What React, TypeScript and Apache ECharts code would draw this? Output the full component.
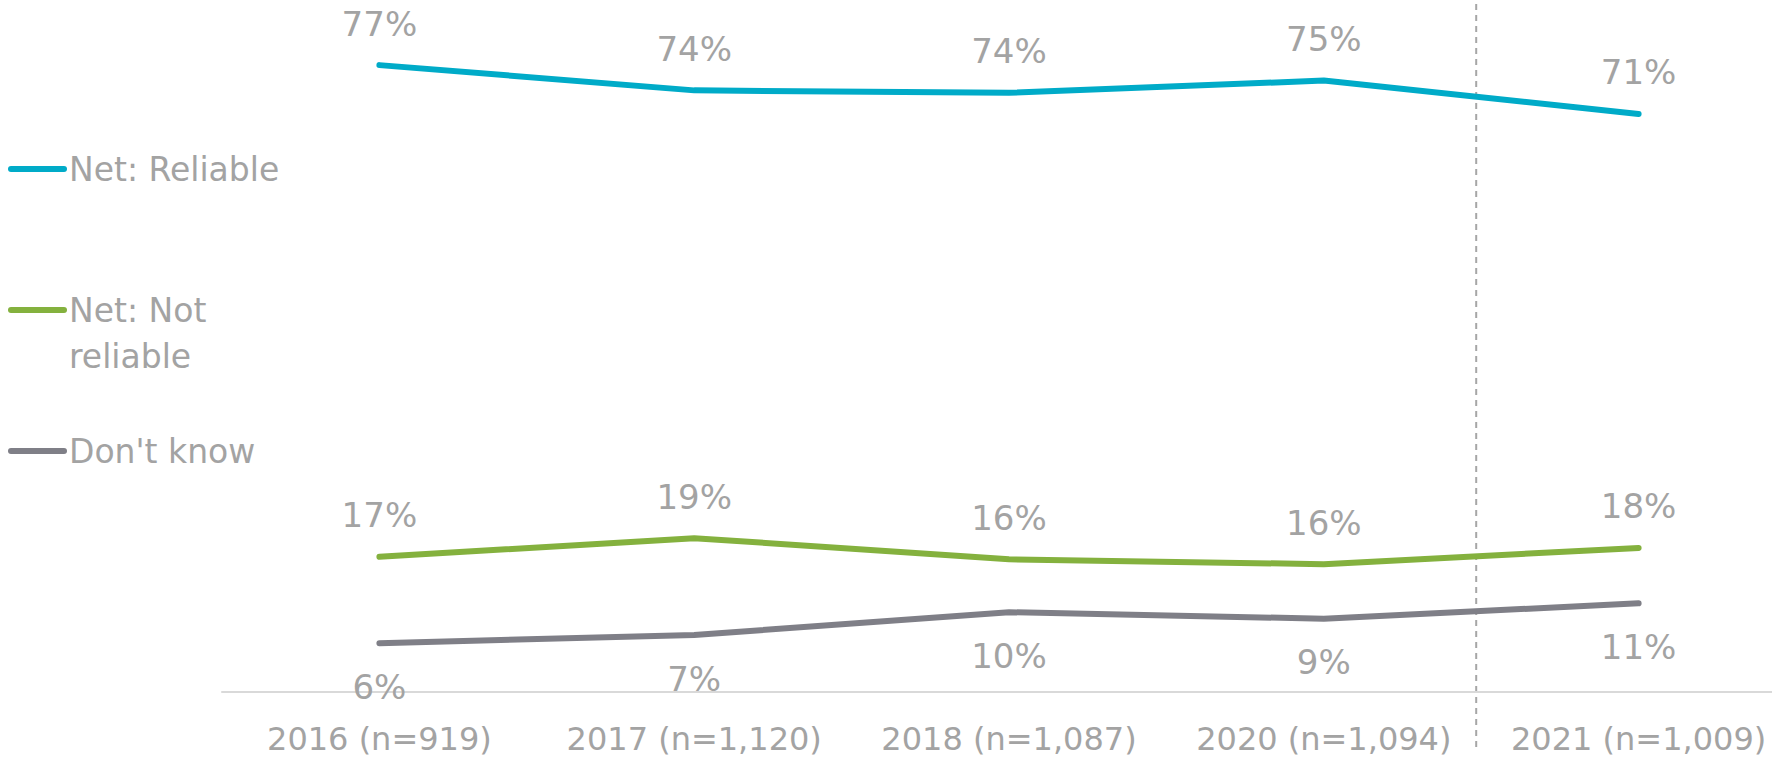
import React, { useEffect, useRef } from "react";
import * as echarts from "echarts";

const categories = [
  "2016 (n=919)",
  "2017 (n=1,120)",
  "2018 (n=1,087)",
  "2020 (n=1,094)",
  "2021 (n=1,009)",
];
const reliable = [77.0, 73.9, 73.6, 75.1, 71.0];
const notReliable = [16.6, 18.9, 16.3, 15.7, 17.7];
const dontKnow = [6.0, 7.0, 9.8, 9.0, 10.9];
const seriesNames = ["Net: Reliable", "Net: Not reliable", "Don't know"];
const legendLabels = ["Net: Reliable", "Net: Not\nreliable", "Don't know"];
const colors = ["#00ABC8", "#84B13E", "#7F7F87"];

const FONT = "'DejaVu Sans', Verdana, sans-serif";
const TEXT = "#A3A3A3";

export default function App() {
  const ref = useRef<HTMLDivElement>(null);
  useEffect(() => {
    if (!ref.current) return;
    const chart = echarts.init(ref.current, undefined, { renderer: "svg" });
    const label = (pos: "top" | "bottom", dist: number) => ({
      show: true,
      position: pos,
      distance: dist,
      color: TEXT,
      fontFamily: FONT,
      fontSize: 34,
      formatter: (p: any) => Math.round(p.value) + "%",
    });
    const mk = (name: string, data: number[], color: string, pos: "top" | "bottom", dist: number) => ({
      name,
      type: "line",
      data,
      color,
      symbol: "circle",
      symbolSize: 3,
      showSymbol: true,
      itemStyle: { color },
      lineStyle: { color, width: 6, cap: "round", join: "round" },
      label: label(pos, dist),
    });
    chart.setOption({
      animation: false,
      grid: { left: 222, top: 0, width: 1574, height: 692, outerBoundsMode: "none", containLabel: false },
      xAxis: {
        type: "category",
        data: categories,
        boundaryGap: true,
        axisLine: { show: true, lineStyle: { color: "#D9D9D9", width: 2 } },
        axisTick: { show: false },
        axisLabel: { color: TEXT, fontFamily: FONT, fontSize: 32, margin: 31, interval: 0 },
        splitLine: { show: false },
      },
      yAxis: {
        type: "value",
        min: 0,
        max: 85,
        show: false,
        splitLine: { show: false },
      },
      series: [
        mk(seriesNames[0], reliable, colors[0], "top", 23),
        mk(seriesNames[1], notReliable, colors[1], "top", 23),
        mk(seriesNames[2], dontKnow, colors[2], "bottom", 25),
      ],
    });

    const x4 = chart.convertToPixel({ xAxisIndex: 0 }, categories[3]) as number;
    const x5 = chart.convertToPixel({ xAxisIndex: 0 }, categories[4]) as number;
    const divX = (x4 + x5) / 2 - 5;
    const legendY = [169, 310, 451];
    const graphics: any[] = [
      {
        type: "line",
        shape: { x1: divX, y1: 4, x2: divX, y2: 748 },
        style: { stroke: "#A6A6A6", lineWidth: 2, lineDash: [6, 5] },
        silent: true,
      },
    ];
    legendY.forEach((y, i) => {
      graphics.push({
        type: "line",
        shape: { x1: 11, y1: y, x2: 64, y2: y },
        style: { stroke: colors[i], lineWidth: 6, lineCap: "round" },
      });
      graphics.push({
        type: "text",
        x: 69,
        y: y - 23,
        style: {
          text: legendLabels[i],
          fill: TEXT,
          font: `33px ${FONT}`,
          lineHeight: 46,
          verticalAlign: "top",
          align: "left",
        },
      });
    });
    chart.setOption({ graphic: graphics });
    return () => chart.dispose();
  }, []);
  return <div ref={ref} style={{ width: 1772, height: 763, position: "absolute", left: 0, top: 0 }} />;
}
